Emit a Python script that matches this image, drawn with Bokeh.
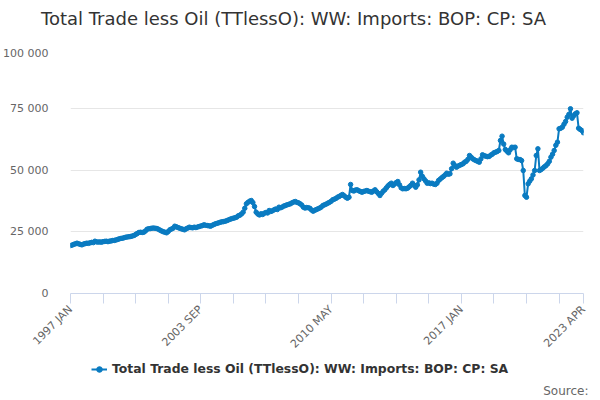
import math

from bokeh.embed import file_html
from bokeh.layouts import column
from bokeh.models import FixedTicker, Legend, LegendItem, Range1d, Title
from bokeh.plotting import figure
from bokeh.resources import INLINE

TITLE = "Total Trade less Oil (TTlessO): WW: Imports: BOP: CP: SA"
SOURCE = "Source:"

first_year = 1997
months = ["JAN", "FEB", "MAR", "APR", "MAY", "JUN",
          "JUL", "AUG", "SEP", "OCT", "NOV", "DEC"]

# monthly values, one list per year
v1997 = [19400, 19600, 19900, 20100, 20370, 20100, 19900, 19700, 20000, 20200, 20370, 20300]
v1998 = [20500, 20700, 20600, 21170, 20900, 20800, 20900, 20770, 21000, 21100, 21170, 21000]
v1999 = [21200, 21300, 21460, 21500, 21700, 21900, 22140, 22300, 22400, 22600, 22800, 22900]
v2000 = [23000, 23080, 23300, 23480, 23900, 24300, 24700, 24800, 24700, 24820, 25300, 26030]
v2001 = [26200, 26300, 26440, 26500, 26400, 26320, 26000, 25630, 25300, 25000, 24820, 24570]
v2002 = [25100, 25780, 26100, 26440, 27250, 27000, 26700, 26440, 26200, 26000, 25780, 26200]
v2003 = [26500, 26850, 26700, 26600, 26850, 26700, 26900, 27120, 27300, 27500, 27800, 27600]
v2004 = [27500, 27400, 27250, 27600, 27900, 28220, 28400, 28600, 28870, 29000, 29100, 29270]
v2005 = [29500, 29800, 30080, 30300, 30500, 30650, 30900, 31450, 31700, 32200, 32930, 34500]
v2006 = [36300, 36900, 37370, 37650, 36800, 35200, 32930, 32200, 31800, 32270, 32000, 32510]
v2007 = [32800, 32600, 33600, 33200, 33500, 33890, 34200, 34000, 34940, 34700, 35000, 35400]
v2008 = [35630, 35900, 36100, 36310, 36700, 37000, 37250, 36900, 36700, 36310, 35800, 34940]
v2009 = [34600, 34800, 34700, 34500, 33800, 33320, 33700, 34000, 34290, 34600, 35000, 35630]
v2010 = [35900, 36200, 36560, 36900, 37300, 37930, 38200, 38500, 38990, 39300, 39700, 40080]
v2011 = [39600, 39000, 38580, 38990, 44130, 41700, 41500, 41900, 41980, 41600, 41300, 41010]
v2012 = [41300, 41500, 41700, 41400, 41200, 41010, 41500, 41980, 41200, 40500, 39680, 40600]
v2013 = [41400, 41980, 42800, 43600, 44200, 44660, 43720, 44300, 44900, 45340, 44000, 42800]
v2014 = [42390, 42500, 42400, 42660, 43200, 43800, 44660, 43800, 43040, 44000, 46000, 49110]
v2015 = [47500, 46440, 45600, 44660, 44800, 44500, 44660, 44300, 44130, 44600, 45750, 46300]
v2016 = [46900, 47370, 48000, 48710, 48300, 48460, 50500, 52760, 51800, 51130, 51600, 51900]
v2017 = [52230, 52500, 53160, 53500, 54300, 55870, 55200, 54540, 54130, 53800, 53500, 53160]
v2018 = [54500, 56150, 55800, 55600, 55400, 55470, 56000, 56400, 56960, 57200, 57500, 57900]
v2019 = [61940, 63690, 60500, 58300, 57600, 56960, 58200, 59230, 59100, 59230, 54540, 54300]
v2020 = [54250, 53800, 49800, 39680, 38990, 44410, 45500, 46440, 48000, 49800, 55870, 58580]
v2021 = [49800, 50200, 50730, 51300, 51800, 52510, 53500, 55190, 56400, 57900, 60000, 61260]
v2022 = [66680, 66900, 67330, 68500, 69640, 71380, 72500, 74780, 70970, 72000, 72750, 73160]
v2023 = [66920, 66400, 65990, 65060]

values = (v1997 + v1998 + v1999 + v2000 + v2001 + v2002 + v2003 + v2004 + v2005
          + v2006 + v2007 + v2008 + v2009 + v2010 + v2011 + v2012 + v2013 + v2014
          + v2015 + v2016 + v2017 + v2018 + v2019 + v2020 + v2021 + v2022 + v2023)
periods = [f"{first_year + i // 12} {months[i % 12]}" for i in range(len(values))]
idx = list(range(len(values)))

y_ticks = [0, 25000, 50000, 75000, 100000]
y_labels = ["0", "25 000", "50 000", "75 000", "100 000"]
label_every = 80
tick_every = 20

last = len(values) - 1
x_major = list(range(0, last, label_every)) + [last]
x_minor = [i for i in range(0, last, tick_every) if i not in x_major]

BLUE = "#0a7bc1"
AXIS = "#ccd6eb"
GREY = "#666666"
DARK = "#333333"
FONT = "DejaVu Sans"


def strip(height):
    # a blank figure used only to carry the title or the legend
    f = figure(
        width=600, height=height, title=None,
        x_range=Range1d(0, 1), y_range=Range1d(0, 1),
        x_axis_location=None, y_axis_location=None,
        output_backend="svg", toolbar_location=None, min_border=0,
    )
    f.outline_line_color = None
    f.grid.visible = False
    return f


head = strip(46)
head.add_layout(Title(
    text=TITLE, align="left", offset=-29.5, standoff=10,
    text_font=FONT, text_font_size="18px", text_font_style="normal",
    text_color=DARK,
), "above")

p = figure(
    width=600, height=314, title=None,
    x_range=Range1d(0, last), y_range=Range1d(0, 100000),
    output_backend="svg", toolbar_location=None,
    min_border_left=70, min_border_right=17,
    min_border_top=0, min_border_bottom=67,
)
p.outline_line_color = None

p.xgrid.visible = False
p.ygrid.grid_line_color = "#e6e6e6"

yax = p.yaxis[0]
yax.ticker = FixedTicker(ticks=y_ticks)
yax.major_label_overrides = dict(zip(y_ticks, y_labels))
yax.axis_line_color = None
yax.major_tick_line_color = None
yax.minor_tick_line_color = None
yax.major_label_standoff = 16
yax.major_label_text_color = GREY
yax.major_label_text_font_size = "11px"
yax.major_label_text_font = FONT

xax = p.xaxis[0]
xax.ticker = FixedTicker(ticks=x_major, minor_ticks=x_minor)
xax.major_label_overrides = {i: periods[i] for i in x_major}
xax.axis_line_color = AXIS
xax.major_tick_line_color = AXIS
xax.minor_tick_line_color = AXIS
xax.major_tick_in = 0
xax.major_tick_out = 10
xax.minor_tick_in = 0
xax.minor_tick_out = 10
xax.major_label_orientation = math.pi / 4
xax.major_label_standoff = 4
xax.major_label_text_color = GREY
xax.major_label_text_font_size = "11px"
xax.major_label_text_font = FONT

p.line(idx, values, line_color=BLUE, line_width=2)
p.scatter(idx, values, size=4.5, fill_color=BLUE, line_color=BLUE)

# legend strip: the same series, outside this strip's ranges, gives the key
foot = strip(40)
key_line = foot.line(idx, values, line_color=BLUE, line_width=2)
key_dot = foot.scatter(idx, values, size=5, fill_color=BLUE, line_color=BLUE)

legend = Legend(
    items=[LegendItem(label=TITLE, renderers=[key_line, key_dot])],
    location=(21, 2), orientation="horizontal",
    border_line_color=None, background_fill_alpha=0,
    padding=0, margin=0, glyph_width=16, glyph_height=14, label_height=14,
    label_standoff=5,
    label_text_font=FONT, label_text_font_size="12.4px",
    label_text_font_style="bold", label_text_color=DARK,
)
foot.add_layout(legend)

foot.add_layout(Title(
    text=SOURCE, align="right", offset=-5, standoff=6,
    text_font=FONT, text_font_size="12px", text_font_style="normal",
    text_color=GREY,
), "below")

open("out.html", "w").write(file_html(column(head, p, foot), INLINE))
